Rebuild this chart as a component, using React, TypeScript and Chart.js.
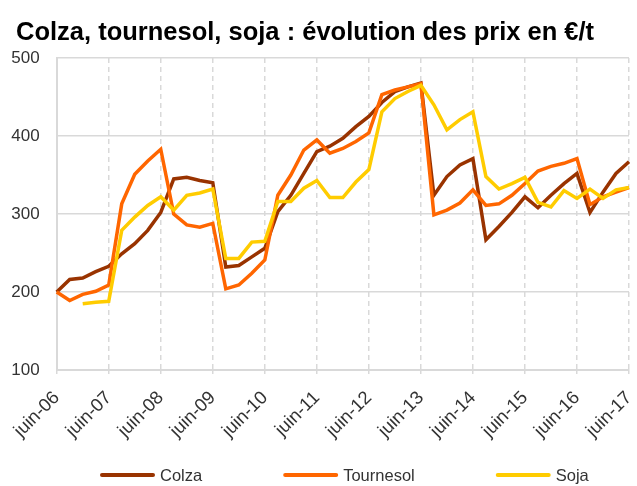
import React, { useEffect, useRef } from "react";
import { Chart, registerables } from "chart.js";

Chart.register(...registerables);

const titleText = "Colza, tournesol, soja : évolution des prix en €/t";

// Tick labels (one per year, every 4th quarter)
const yearLabels = [
  "juin-06", "juin-07", "juin-08", "juin-09", "juin-10", "juin-11",
  "juin-12", "juin-13", "juin-14", "juin-15", "juin-16", "juin-17",
];
const quarterMonths = ["juin", "sept", "déc", "mars"];
const firstYear = 6;

// Quarterly prices, €/t (juin-06 … juin-17)
const colza = [
  200, 216, 218, 226, 233, 249, 262, 279, 302, 345, 347, 343,
  340, 232, 234, 245, 256, 303, 324, 352, 380, 387, 397, 412,
  425, 443, 457, 463, 468, 324, 348, 363, 371, 267, 284, 302,
  322, 308, 324, 339, 352, 302, 328, 352, 367,
];
const tournesol = [
  200, 189, 197, 201, 209, 313, 351, 368, 383, 300, 286, 283,
  288, 204, 209, 224, 241, 324, 350, 382, 395, 378, 384, 393,
  404, 453, 459, 463, 467, 299, 305, 314, 331, 311, 313, 324,
  339, 355, 361, 365, 371, 312, 322, 328, 334,
];
const soja = [
  null, null, 185, 187, 188, 279, 296, 311, 322, 305, 324, 327,
  332, 243, 243, 264, 265, 316, 316, 333, 343, 321, 321, 341,
  357, 431, 448, 457, 465, 440, 408, 421, 431, 348, 332, 339,
  347, 315, 309, 330, 320, 332, 320, 331, 334,
];

const categories: string[] = colza.map((_, i) => {
  const q = i % 4;
  const yr = firstYear + Math.floor(i / 4) + (q === 3 ? 1 : 0);
  return `${quarterMonths[q]}-${String(yr).padStart(2, "0")}`;
});

const COLZA = "#993300";
const TOURNESOL = "#FF6600";
const SOJA = "#FFCC00";
const GRID = "#d9d9d9";
const FONT = "'Liberation Sans', Arial, sans-serif";

const titlePlugin = {
  id: "leftTitle",
  afterDraw(chart: any) {
    const ctx = chart.ctx;
    ctx.save();
    ctx.font = `bold 25.5px ${FONT}`;
    ctx.fillStyle = "#000";
    ctx.textAlign = "left";
    ctx.textBaseline = "alphabetic";
    ctx.fillText(titleText, 16, 40);
    ctx.restore();
  },
};

const legendPlugin = {
  id: "bottomLegend",
  afterDraw(chart: any) {
    const ctx = chart.ctx;
    ctx.save();
    ctx.font = `16.5px ${FONT}`;
    ctx.textBaseline = "middle";
    ctx.textAlign = "left";
    let x = 100;
    const y = 475;
    chart.data.datasets.forEach((ds: any) => {
      ctx.strokeStyle = ds.borderColor;
      ctx.lineWidth = 4;
      ctx.lineCap = "round";
      ctx.beginPath();
      ctx.moveTo(x + 2, y);
      ctx.lineTo(x + 53, y);
      ctx.stroke();
      ctx.fillStyle = "#333";
      ctx.fillText(ds.label, x + 60, y + 1);
      x += 60 + ctx.measureText(ds.label).width + 81;
    });
    ctx.restore();
  },
};

export default function App() {
  const ref = useRef<HTMLCanvasElement | null>(null);

  useEffect(() => {
    document.body.style.margin = "0";
    const canvas = ref.current;
    if (!canvas) return;
    const chart = new Chart(canvas, {
      type: "line",
      data: {
        labels: categories,
        datasets: [
          { label: "Colza", data: colza, borderColor: COLZA, backgroundColor: COLZA, borderWidth: 3.5, pointRadius: 0, tension: 0, order: 3 },
          { label: "Tournesol", data: tournesol, borderColor: TOURNESOL, backgroundColor: TOURNESOL, borderWidth: 3.5, pointRadius: 0, tension: 0, order: 2 },
          { label: "Soja", data: soja, borderColor: SOJA, backgroundColor: SOJA, borderWidth: 3.5, pointRadius: 0, tension: 0, order: 1 },
        ],
      },
      options: {
        responsive: false,
        animation: false,
        layout: { padding: { left: 8, right: 8, top: 58, bottom: 36 } },
        plugins: {
          tooltip: { enabled: false },
          title: { display: false },
          legend: { display: false },
        },
        scales: {
          x: {
            type: "category",
            offset: false,
            grid: { color: GRID, lineWidth: 1.5, drawTicks: true, tickLength: 4, tickColor: GRID },
            border: { display: true, color: GRID, width: 2, dash: [5, 4] },
            ticks: {
              autoSkip: false,
              maxRotation: 45,
              minRotation: 45,
              padding: 13,
              color: "#333",
              font: { family: FONT, size: 18.5 },
              callback: (_v: any, i: number) => (i % 4 === 0 ? yearLabels[i / 4] : null),
            },
            afterFit: (s: any) => {
              s.height = 80;
              s.paddingLeft = 0;
              s.paddingRight = 0;
            },
          },
          y: {
            min: 100,
            max: 500,
            ticks: { stepSize: 100, padding: 17, color: "#333", font: { family: FONT, size: 17 } },
            grid: { color: GRID, lineWidth: 1.5, drawTicks: false },
            border: { display: true, color: GRID, width: 2 },
            afterFit: (s: any) => {
              s.width = 48.7;
              s.paddingTop = 0;
              s.paddingBottom = 0;
            },
          },
        },
      },
      plugins: [titlePlugin, legendPlugin],
    });
    return () => chart.destroy();
  }, []);

  return <canvas ref={ref} width={637} height={486} style={{ display: "block" }} />;
}
